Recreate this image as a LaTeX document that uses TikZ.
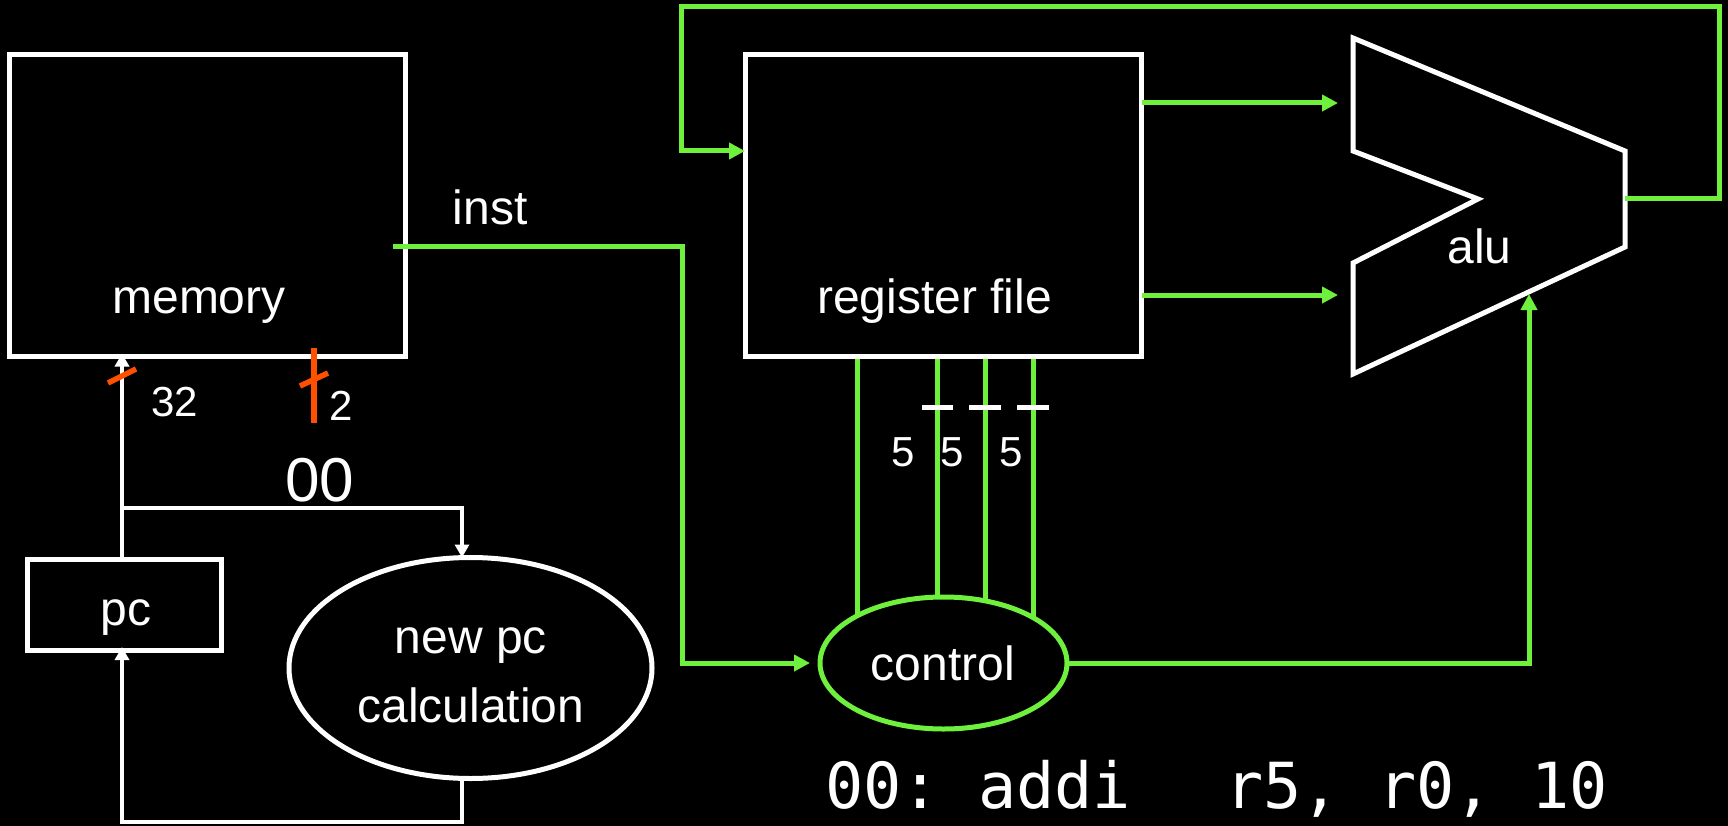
\documentclass[tikz,border=0pt]{standalone}
\usepackage{fontspec}
\setmainfont{Liberation Sans}
\setmonofont{DejaVu Sans Mono}
\usetikzlibrary{arrows.meta,shapes.geometric,backgrounds}
\definecolor{sig}{RGB}{110,240,60}
\definecolor{busw}{RGB}{255,80,0}
\begin{document}
\begin{tikzpicture}[x=1pt,y=-1pt,
  box/.style={draw=white,line width=5pt,inner sep=0pt,outer sep=0pt},
  wwire/.style={draw=white,line width=4pt},
  gwire/.style={draw=sig,line width=5pt},
  wtip/.style={-{Triangle[length=13pt,width=14pt]}},
  gtip/.style={-{Triangle[length=16pt,width=16pt]}},
  lbl/.style={text=white,inner sep=0pt,anchor=base,font=\fontsize{48}{56}\selectfont},
  small/.style={lbl,font=\fontsize{42}{50}\selectfont},
  widthmark/.style={draw=busw,line width=5.5pt},
  bustick/.style={draw=white,line width=5pt}]

\begin{pgfonlayer}{background}
  \fill[black] (0,0) rectangle (1728,826);
\end{pgfonlayer}
\useasboundingbox (0,0) rectangle (1728,826);

% blocks
\node[box,minimum width=396pt,minimum height=301.5pt] (mem) at (207.5,205.75) {};
\node[box,minimum width=396.5pt,minimum height=301.5pt] (rf) at (943.25,205.75) {};
\node[box,minimum width=194pt,minimum height=91pt] (pc) at (124.6,604.5) {};
\node[box,ellipse,minimum width=363pt,minimum height=221pt] (npc) at (470.5,668) {};
\node[box,ellipse,draw=sig,fill=black,minimum width=247pt,minimum height=132pt] (ctl) at (943.5,663) {};

% alu outline
\coordinate (aTL) at (1353,38);
\coordinate (aTR) at (1625,151);
\coordinate (aBR) at (1625,247);
\coordinate (aBL) at (1353,374);
\coordinate (aLB) at (1353,263);
\coordinate (aN)  at (1478,199);
\coordinate (aLT) at (1353,151);
\draw[white,line width=5pt] (aTL) -- (aTR) -- (aBR) -- (aBL) -- (aLB) -- (aN) -- (aLT) -- cycle;
\coordinate (aluA) at (1353,103);
\coordinate (aluB) at (1353,295);
\coordinate (aluout) at (1625,199);
\coordinate (aluS) at (1529,294);

% labels
\node[lbl] (memlbl) at (199,313) {memory};
\node[lbl] (rflbl) at (934.5,313) {register file};
\node[lbl] (instlbl) at (490,225) {inst};
\node[lbl] (alulbl) at (1479.5,263) {alu};
\node[lbl] (ctllbl) at (943,680) {control};
\node[lbl] (pclbl) at (126,625) {pc};
\node[lbl] (npclbla) at (471,653) {new pc};
\node[lbl] (npclblb) at (471,722) {calculation};
\node[lbl,font=\fontsize{62}{70}\selectfont] (zz) at (320,501) {00};
\node[small] (w32) at (174.5,416) {32};
\node[small] (w2) at (341,420) {2};
\node[small] (w5a) at (903,466) {5};
\node[small] (w5b) at (952,466) {5};
\node[small] (w5c) at (1011,466) {5};
\node[text=white,inner sep=0pt,anchor=base west,font=\ttfamily\fontsize{63.5}{72}\selectfont] (asm) at (825,808) {00:~addi~~\hspace{18pt}r5,~r0,~10};

% helper coordinates
\coordinate (pcx) at (122,0);
\coordinate (br) at (122,508);
\coordinate (npcx) at (462,0);
\coordinate (lowy) at (0,822);
\coordinate (instout) at (393,247);
\coordinate (turnx) at (682,0);
\coordinate (loopR) at (1719,7);
\coordinate (loopL) at (681,7);
\coordinate (fbk) at (0,151);
\coordinate (c1) at (857,0);
\coordinate (c2) at (937,0);
\coordinate (c3) at (985,0);
\coordinate (c4) at (1033,0);

% pc datapath (white)
\draw[wwire,wtip,shorten >=-3pt] (pc.north -| pcx) -- (mem.south -| pcx);
\draw[wwire,wtip] (br) -| (npc.north -| npcx);
\draw[wwire,wtip,shorten >=-3pt] (npc.south -| npcx) |- (lowy -| pcx) -- (pc.south -| pcx);

% signals (green)
\draw[gwire,gtip,shorten >=10pt] (instout) -| (turnx |- ctl.west) -- (ctl.west);
\draw[gwire,gtip,shorten >=15pt] (rf.east |- aluA) -- (aluA);
\draw[gwire,gtip,shorten >=15pt] (rf.east |- aluB) -- (aluB);
\draw[gwire,gtip] (aluout) -| (loopR) -- (loopL) |- (rf.west |- fbk);
\draw[gwire,gtip] (ctl.east) -| (aluS);
\begin{pgfonlayer}{background}
  \draw[gwire] (rf.south -| c1) -- (ctl.center -| c1);
  \draw[gwire] (rf.south -| c2) -- (ctl.center -| c2);
  \draw[gwire] (rf.south -| c3) -- (ctl.center -| c3);
  \draw[gwire] (rf.south -| c4) -- (ctl.center -| c4);
\end{pgfonlayer}

% bus width ticks
\draw[bustick] (922,407) -- (953,407);
\draw[bustick] (969,407) -- (1001,407);
\draw[bustick] (1017,407) -- (1049,407);
\draw[widthmark] (108,383) -- (136,369);
\draw[widthmark] (314,348) -- (314,423);
\draw[widthmark] (300,386) -- (328,373);
\end{tikzpicture}
\end{document}
